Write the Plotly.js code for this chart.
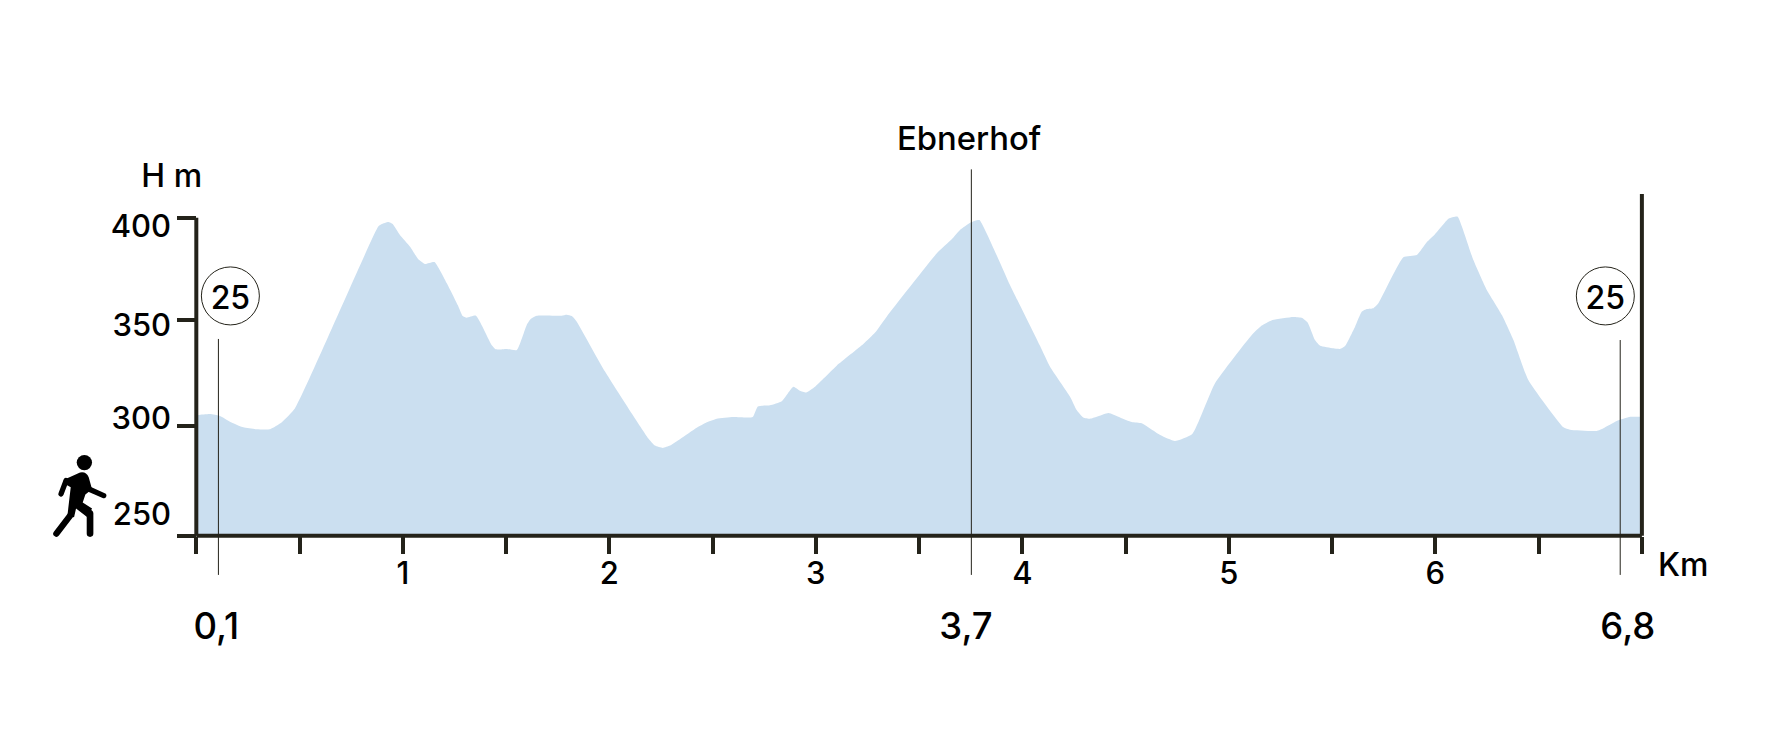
<!DOCTYPE html>
<html>
<head>
<meta charset="utf-8">
<script src="https://cdn.plot.ly/plotly-3.0.1.min.js"></script>
<style>html,body{margin:0;padding:0;background:#fff;overflow:hidden}</style>
</head>
<body>
<div id="chart" style="width:1790px;height:745px"></div>
<script>
const distanceKm = [0,0.01,0.066,0.115,0.163,0.228,0.292,0.357,0.414,0.478,0.881,0.898,0.93,0.951,0.986,1.035,1.075,1.107,1.153,1.213,1.266,1.29,1.309,1.354,1.43,1.451,1.503,1.552,1.6,1.619,1.648,1.769,1.794,1.818,1.839,1.979,2.189,2.221,2.259,2.294,2.342,2.423,2.472,2.52,2.6,2.694,2.719,2.778,2.835,2.891,2.923,2.953,2.996,3.101,3.23,3.287,3.343,3.586,3.658,3.698,3.747,3.771,3.792,3.94,4.086,4.134,4.231,4.263,4.295,4.328,4.36,4.417,4.473,4.53,4.578,4.667,4.739,4.823,4.933,5.111,5.159,5.211,5.312,5.353,5.382,5.417,5.442,5.506,5.538,5.563,5.611,5.644,5.668,5.7,5.724,5.845,5.91,5.958,5.998,6.063,6.087,6.108,6.184,6.249,6.322,6.378,6.45,6.62,6.652,6.781,6.814,6.878,6.943,6.988,7];
const elevationM = [306.5,306.9,307.4,306.5,303.8,301.1,300.2,300.2,303.5,310.1,395.8,397,398,397,391.8,386.3,380.4,378.2,379.1,369.1,358.8,353.6,352.8,353.8,340,337.9,338.1,337.6,349.4,352.2,353.8,353.8,354.2,353.6,351.4,327.4,295.9,292.5,291.4,292.5,295.5,300.9,303.5,305.2,306,306,311,311.5,313.4,320.3,318.4,317.6,320.3,330.2,340.4,345.8,353.3,383.2,389.8,394.2,397.6,398.6,398.9,368.3,339.5,329.7,315.6,309.3,305.8,305.2,306.1,307.9,305.8,303.6,303,297.5,294.7,298,321.9,344.7,349.1,351.7,353.2,352.8,350.5,342.3,339.6,338.4,338.1,339.5,348.6,355.7,356.9,357.3,359.6,381.3,382.4,388.4,392.2,399.5,400.3,400.5,380,365.9,354.1,342.3,323.4,301.1,300,299.4,300.7,304.1,306.1,306.1,306.1];

const xTickVals = [0,0.5,1,1.5,2,2.5,3,3.5,4,4.5,5,5.5,6,6.5,7];
const xTickText = ['','','1','','2','','3','','4','','5','','6','',''];
const yTickVals = [250,301.7,351.7,400];
const yLabelVals = [260.2,305.5,349.2,395.8];
const yLabelText = ['250','300','350','400'];

const markerKm = [0.107,3.753,6.895];
const markerTop = [342.8,422.8,342.3];
const markerBottom = 231.5;
const markerLabelKm = [0.097,3.727,6.932];
const markerLabelY = 205.8;
const markerLabels = ['0,1','3,7','6,8'];

const routeKm = [0.165,6.823];
const routeY = [363.1,363.1];
const routeLabelY = [360.9,360.9];
const routeLabels = ['25','25'];

const axisTopRight = 411.2;
const FONT = 'Inter, "Liberation Sans", sans-serif';
const INK = '#24231a';

// Plot area fills the page; the axes sit inside it at these data values.
const xRange = [-0.9506, 7.7172];
const yRange = [151.27, 502.69];
const xAxisPosition = 0.28094;
const yAxisPosition = 0.10966;

function vline(x, y0, y1, w){
  return {x:[x,x], y:[y0,y1], mode:'lines', line:{color:INK,width:w}, hoverinfo:'skip', showlegend:false};
}
function label(x, y, text, size){
  return {x:x, y:y, text:text, mode:'text', textposition:'middle center',
          textfont:{family:FONT,size:size,color:'#000',weight:500}, hoverinfo:'skip', showlegend:false};
}

const traces = [
  {x:[0,7], y:[250,250], mode:'lines', line:{width:0,color:'#cbdff0'}, hoverinfo:'skip', showlegend:false},
  {x:distanceKm, y:elevationM, mode:'lines', fill:'tonexty', fillcolor:'#cbdff0', line:{width:0,color:'#cbdff0',shape:'spline',smoothing:0.45}, hoverinfo:'skip', showlegend:false},
  {x:[0,7], y:[250,250], mode:'lines', line:{color:INK,width:4}, hoverinfo:'skip', showlegend:false},
  vline(0,250,400,4),
  vline(7,250,axisTopRight,4),
  {x:[0,0], y:[250,400], yaxis:'y2', mode:'markers', marker:{opacity:0,size:1}, hoverinfo:'skip', showlegend:false},
  {x:routeKm, y:routeY, mode:'markers', marker:{symbol:'circle',size:58,color:'rgba(255,255,255,0)',line:{color:INK,width:1}}, hoverinfo:'skip', showlegend:false},
  label(routeKm,routeLabelY,routeLabels,32),
  label([-0.119],[418.4],['H m'],32),
  label([7.2],[234.8],['Km'],32),
  label([3.742],[435.9],['Ebnerhof'],32.8)
];
markerKm.forEach((k,i)=>{
  traces.push(vline(k,markerBottom,markerTop[i],1));
  traces.push(label([markerLabelKm[i]],[markerLabelY],[markerLabels[i]],36.5));
});

const walker = '<svg xmlns="http://www.w3.org/2000/svg" viewBox="0 0 300 330">'
 + '<circle cx="163" cy="98" r="23" fill="#000"/>'
 + '<path d="M100 150 L150 128 Q168 124 176 142 L186 178 L166 194 L158 218 L186 236 L172 262 L138 236 L132 262 L112 258 L122 172 L110 165 Z" fill="#000"/>'
 + '<g fill="none" stroke="#000" stroke-linecap="round" stroke-linejoin="round">'
 + '<path d="M108 152 L93 192" stroke-width="16"/>'
 + '<path d="M178 178 L221 197" stroke-width="16"/>'
 + '<path d="M122 255 L79 311" stroke-width="19"/>'
 + '<path d="M140 222 L180 250 L180 311" stroke-width="20"/>'
 + '</g></svg>';

const tickfont = {family:FONT,size:31,color:'#000',weight:500};
const layout = {
  width:1790, height:745,
  margin:{l:0,r:0,t:0,b:0,pad:0},
  paper_bgcolor:'#fff', plot_bgcolor:'#fff',
  showlegend:false,
  xaxis:{range:xRange,anchor:'free',position:xAxisPosition,tickmode:'array',tickvals:xTickVals,ticktext:xTickText,ticks:'outside',ticklen:17,tickwidth:4,tickcolor:INK,
         ticklabelstandoff:-7,showgrid:false,zeroline:false,showline:false,tickfont:tickfont,fixedrange:true},
  yaxis:{range:yRange,anchor:'free',position:yAxisPosition,tickmode:'array',tickvals:yTickVals,ticktext:['','','',''],ticks:'outside',ticklen:19,tickwidth:4,tickcolor:INK,
         showgrid:false,zeroline:false,showline:false,fixedrange:true},
  yaxis2:{range:yRange,overlaying:'y',anchor:'free',position:yAxisPosition,side:'left',tickmode:'array',tickvals:yLabelVals,ticktext:yLabelText,ticks:'outside',ticklen:19,tickwidth:0,
          tickcolor:'rgba(0,0,0,0)',showgrid:false,zeroline:false,showline:false,tickfont:tickfont,fixedrange:true},
  images:[{source:'data:image/svg+xml;utf8,'+encodeURIComponent(walker),xref:'x',yref:'y',
           x:-0.805,y:299.9,sizex:0.484,sizey:51.9,xanchor:'left',yanchor:'top',sizing:'stretch',layer:'above'}]
};
Plotly.newPlot('chart',traces,layout,{displayModeBar:false,staticPlot:true});
</script>
</body>
</html>
